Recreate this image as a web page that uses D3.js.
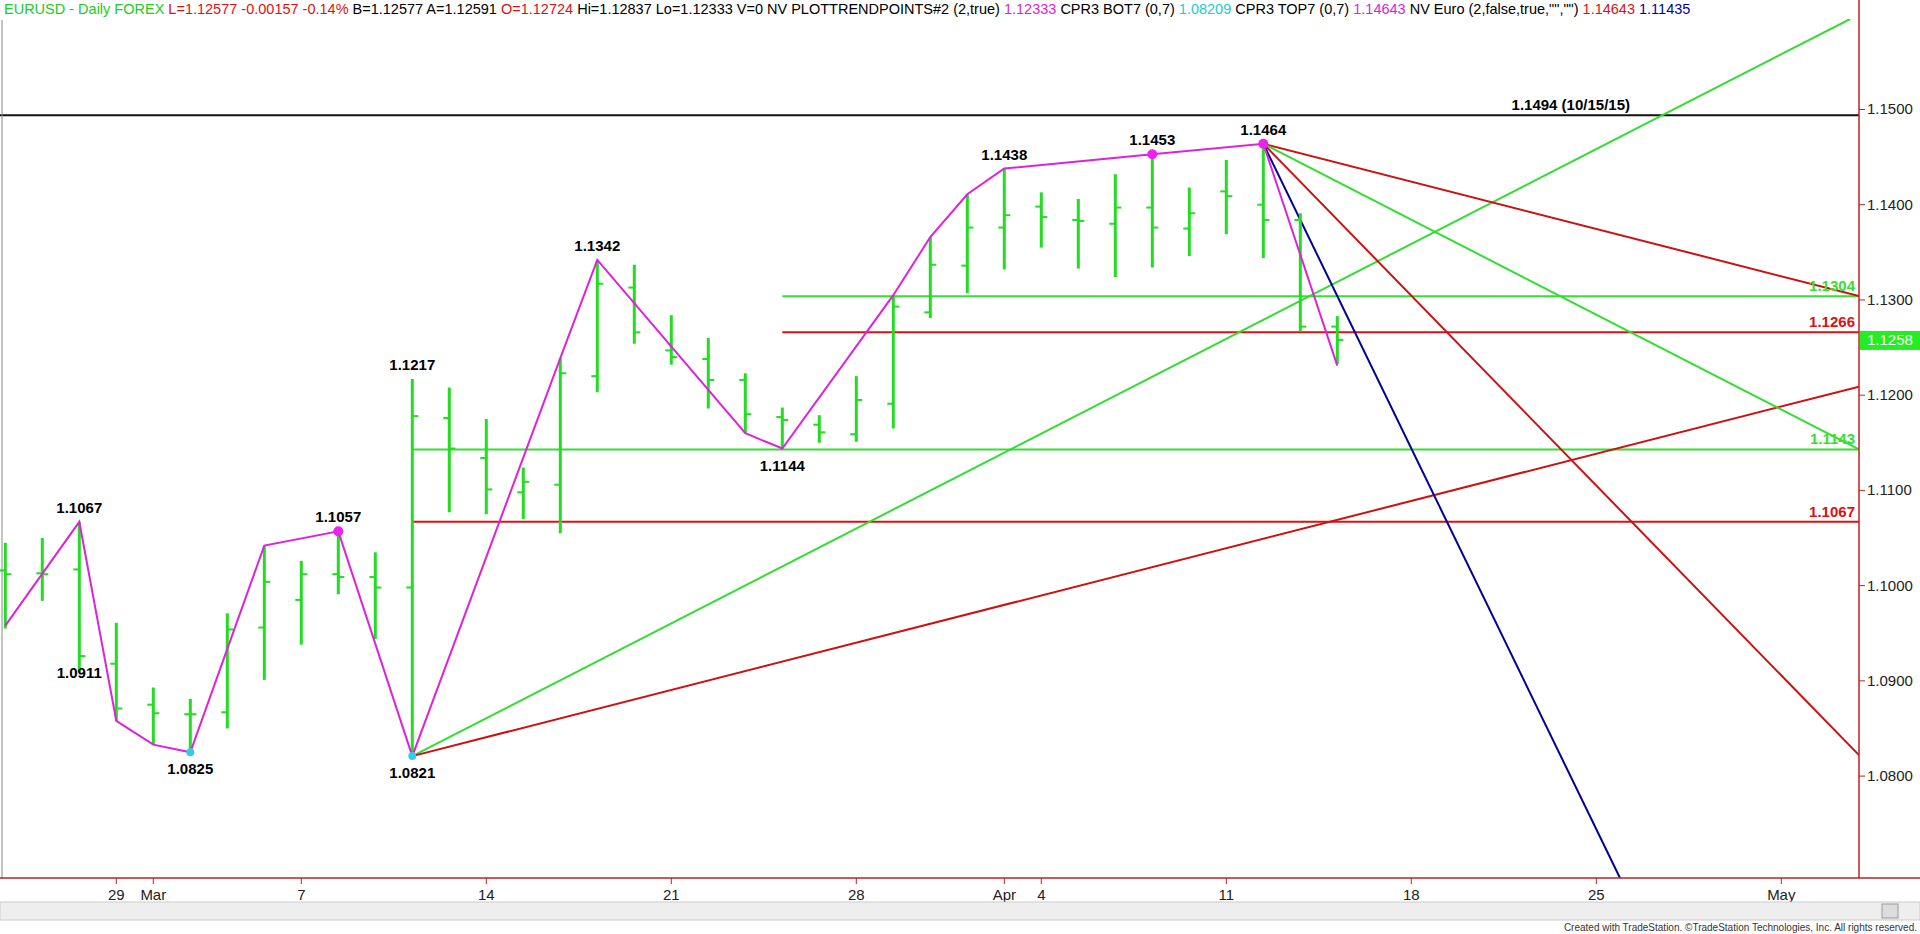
<!DOCTYPE html>
<html><head><meta charset="utf-8">
<script src="https://cdn.jsdelivr.net/npm/d3@7/dist/d3.min.js"></script>
<style>
body{margin:0;background:#fff;overflow:hidden}
svg{display:block;font-family:"Liberation Sans",Arial,sans-serif}
</style></head><body>
<svg id="chart" width="1920" height="934"></svg>
<script>
// trading-day index: Feb 29 2016 = 0
var dates = ["Feb24","Feb25","Feb26","Feb29","Mar1","Mar2","Mar3","Mar4","Mar7","Mar8","Mar9","Mar10","Mar11","Mar14","Mar15","Mar16","Mar17","Mar18","Mar21","Mar22","Mar23","Mar24","Mar25","Mar28","Mar29","Mar30","Mar31","Apr1","Apr4","Apr5","Apr6","Apr7","Apr8","Apr11","Apr12","Apr13","Apr14"];
var opens  = [1.1016,1.1013,1.1017,1.0918,1.0875,1.0865,1.0867,1.0956,1.0985,1.1012,1.1009,1.0998,1.1176,1.1134,1.1098,1.1106,1.1220,1.1313,1.1247,1.1238,1.1216,1.1177,1.1169,1.1159,1.1191,1.1287,1.1336,1.1376,1.1398,1.1384,1.1380,1.1397,1.1375,1.1414,1.1400,1.1384,1.1272];
var highs  = [1.1045,1.1050,1.1067,1.0961,1.0893,1.0881,1.0971,1.1042,1.1026,1.1057,1.1035,1.1217,1.1208,1.1175,1.1124,1.1239,1.1342,1.1337,1.1284,1.1260,1.1223,1.1187,1.1179,1.1220,1.1305,1.1366,1.1411,1.1438,1.1413,1.1406,1.1432,1.1453,1.1418,1.1447,1.1464,1.1391,1.1283];
var lows   = [1.0955,1.0984,1.0909,1.0858,1.0833,1.0825,1.0850,1.0901,1.0938,1.0991,1.0944,1.0821,1.1077,1.1075,1.1070,1.1055,1.1203,1.1254,1.1232,1.1186,1.1160,1.1144,1.1150,1.1151,1.1165,1.1281,1.1307,1.1332,1.1355,1.1333,1.1324,1.1334,1.1346,1.1369,1.1344,1.1267,1.1233];
var closes = [1.1012,1.1012,1.0926,1.0871,1.0866,1.0865,1.0954,1.1004,1.1012,1.1009,1.0998,1.1178,1.1144,1.1101,1.1109,1.1223,1.1317,1.1266,1.1240,1.1216,1.1180,1.1174,1.1161,1.1195,1.1293,1.1337,1.1376,1.1389,1.1387,1.1383,1.1397,1.1376,1.1391,1.1409,1.1384,1.1272,1.1258];
var firstIdx = -3;

var swingIdx = [-3,-1,0,1,2,4,6,8,12,13,17,18,21,22,23,24,28,31,33];
var swingVal = [1.0958,1.1067,1.0858,1.0833,1.0825,1.1042,1.1057,1.0821,1.1239,1.1342,1.1160,1.1144,1.1305,1.1366,1.1411,1.1438,1.1453,1.1464,1.1231];

var pivotLabels = [
  {i:-1,v:1.1067,t:"1.1067",up:true},{i:-1,v:1.0926,t:"1.0911",up:false},
  {i:2,v:1.0825,t:"1.0825",up:false},{i:6,v:1.1057,t:"1.1057",up:true},
  {i:8,v:1.0821,t:"1.0821",up:false},{i:8,v:1.1217,t:"1.1217",up:true},
  {i:13,v:1.1342,t:"1.1342",up:true},{i:18,v:1.1144,t:"1.1144",up:false},
  {i:24,v:1.1438,t:"1.1438",up:true},{i:28,v:1.1453,t:"1.1453",up:true},
  {i:31,v:1.1464,t:"1.1464",up:true}];
var dotsMagenta = [[6,1.1057],[28,1.1453],[31,1.1464]];
var dotsCyan = [[2,1.0825],[8,1.0821]];

var hLevels = [
  {v:1.1304,from:18,c:"#33e033",t:"1.1304"},{v:1.1266,from:18,c:"#dd1111",t:"1.1266"},
  {v:1.1143,from:8,c:"#33e033",t:"1.1143"},{v:1.1067,from:8,c:"#dd1111",t:"1.1067"}];
var endX = 47.1;
var rays = [
  {i0:8,v0:1.0821,i1:46.86,v1:1.1595,c:"#33dd33"},
  {i0:8,v0:1.0821,i1:endX,v1:1.1209,c:"#cc1111"},
  {i0:31,v0:1.1464,i1:endX,v1:1.1304,c:"#cc1111"},
  {i0:31,v0:1.1464,i1:endX,v1:1.1143,c:"#33dd33"},
  {i0:31,v0:1.1464,i1:endX,v1:1.0822,c:"#cc1111"},
  {i0:31,v0:1.1464,i1:40.64,v1:1.0693,c:"#000099"}];

var xTicks = [[0,"29"],[1,"Mar"],[5,"7"],[10,"14"],[15,"21"],[20,"28"],[24,"Apr"],[25,"4"],[30,"11"],[35,"18"],[40,"25"],[45,"May"]];
var yTicks = [1.08,1.09,1.10,1.11,1.12,1.13,1.14,1.15];

var header = [
  ["EURUSD - Daily  FOREX","#22cc22"],["L=1.12577  -0.00157  -0.14%","#dd1111"],["B=1.12577  A=1.12591","#000"],
  ["O=1.12724","#dd1111"],["Hi=1.12837  Lo=1.12333  V=0  NV  PLOTTRENDPOINTS#2 (2,true)","#000"],["1.12333","#dd22dd"],
  ["CPR3 BOT7 (0,7)","#000"],["1.08209","#22cccc"],["CPR3 TOP7 (0,7)","#000"],["1.14643","#dd22dd"],
  ["NV Euro (2,false,true,\"\",\"\")","#000"],["1.14643","#dd1111"],["1.11435","#0000aa"]];

var svg = d3.select("#chart");
var axisX = 1859, bottomY = 878;
var x = d3.scaleLinear().domain([0,1]).range([116.3,153.3]);
var y = d3.scaleLinear().domain([1.0693,1.1595]).range([bottomY,19]);

var plot = svg.append("g");
svg.append("defs").append("clipPath").attr("id","clip").append("rect")
  .attr("x",0).attr("y",19).attr("width",axisX).attr("height",bottomY-19);
plot.attr("clip-path","url(#clip)");

svg.append("line").attr("x1",2).attr("x2",2).attr("y1",20).attr("y2",bottomY).attr("stroke","#888");

plot.append("line").attr("x1",0).attr("x2",axisX).attr("y1",y(1.1494)).attr("y2",y(1.1494)).attr("stroke","#111").attr("stroke-width",2);
svg.append("text").attr("x",1630).attr("y",y(1.1494)-5).attr("text-anchor","end")
  .attr("font-weight","bold").attr("font-size",15).text("1.1494 (10/15/15)");

hLevels.forEach(function(h){
  plot.append("line").attr("x1",x(h.from)).attr("x2",axisX).attr("y1",y(h.v)).attr("y2",y(h.v))
    .attr("stroke",h.c).attr("stroke-width",2);
  svg.append("text").attr("x",1855).attr("y",y(h.v)-5).attr("text-anchor","end")
    .attr("font-weight","bold").attr("font-size",15).attr("fill",h.c).text(h.t);
});

rays.forEach(function(r){
  plot.append("line").attr("x1",x(r.i0)).attr("y1",y(r.v0)).attr("x2",x(r.i1)).attr("y2",y(r.v1))
    .attr("stroke",r.c).attr("stroke-width",2);
});

var bars = plot.selectAll("g.bar").data(dates).enter().append("g").attr("class","bar");
bars.append("line").attr("x1",function(d,k){return x(k+firstIdx);}).attr("x2",function(d,k){return x(k+firstIdx);})
  .attr("y1",function(d,k){return y(highs[k]);}).attr("y2",function(d,k){return y(lows[k]);})
  .attr("stroke","#22dd22").attr("stroke-width",3);
bars.append("line").attr("x1",function(d,k){return x(k+firstIdx)-6;}).attr("x2",function(d,k){return x(k+firstIdx);})
  .attr("y1",function(d,k){return y(opens[k]);}).attr("y2",function(d,k){return y(opens[k]);})
  .attr("stroke","#22dd22").attr("stroke-width",2);
bars.append("line").attr("x1",function(d,k){return x(k+firstIdx);}).attr("x2",function(d,k){return x(k+firstIdx)+6;})
  .attr("y1",function(d,k){return y(closes[k]);}).attr("y2",function(d,k){return y(closes[k]);})
  .attr("stroke","#22dd22").attr("stroke-width",2);

var zz = d3.line().x(function(d){return x(d[0]);}).y(function(d){return y(d[1]);});
plot.append("path").datum(swingIdx.map(function(v,k){return [v,swingVal[k]];}))
  .attr("d",zz).attr("fill","none").attr("stroke","#dd22dd").attr("stroke-width",2);
plot.selectAll("circle.m").data(dotsMagenta).enter().append("circle")
  .attr("cx",function(d){return x(d[0]);}).attr("cy",function(d){return y(d[1]);}).attr("r",5).attr("fill","#ee22ee");
plot.selectAll("circle.c").data(dotsCyan).enter().append("circle")
  .attr("cx",function(d){return x(d[0]);}).attr("cy",function(d){return y(d[1]);}).attr("r",4).attr("fill","#33ccee");

svg.selectAll("text.piv").data(pivotLabels).enter().append("text")
  .attr("x",function(d){return x(d.i);}).attr("y",function(d){return d.up ? y(d.v)-9 : y(d.v)+22;})
  .attr("text-anchor","middle").attr("font-weight","bold").attr("font-size",15).text(function(d){return d.t;});

svg.append("line").attr("x1",axisX).attr("x2",axisX).attr("y1",0).attr("y2",bottomY).attr("stroke","#b22").attr("stroke-width",1.5);
svg.append("line").attr("x1",0).attr("x2",1920).attr("y1",bottomY).attr("y2",bottomY).attr("stroke","#b22").attr("stroke-width",1.5);
var ya = svg.append("g");
yTicks.forEach(function(t){
  ya.append("line").attr("x1",axisX).attr("x2",axisX+6).attr("y1",y(t)).attr("y2",y(t)).attr("stroke","#b22");
  ya.append("text").attr("x",axisX+8).attr("y",y(t)+5).attr("font-size",15).attr("fill","#222").text(d3.format(".4f")(t));
});
ya.append("rect").attr("x",axisX+1).attr("y",y(1.1258)-9).attr("width",60).attr("height",19).attr("fill","#22ee22");
ya.append("text").attr("x",axisX+8).attr("y",y(1.1258)+5).attr("font-size",15).attr("fill","#fff").text("1.1258");

xTicks.forEach(function(t){
  svg.append("line").attr("x1",x(t[0])).attr("x2",x(t[0])).attr("y1",bottomY).attr("y2",bottomY+6).attr("stroke","#b22");
  svg.append("text").attr("x",x(t[0])).attr("y",bottomY+22).attr("text-anchor","middle").attr("font-size",15)
    .attr("font-family","'Liberation Sans Narrow','Liberation Sans',sans-serif").attr("fill","#222").text(t[1]);
});

svg.append("rect").attr("x",0).attr("y",902).attr("width",1920).attr("height",18).attr("fill","#eee").attr("stroke","#ccc");
svg.append("rect").attr("x",1882).attr("y",904).attr("width",16).attr("height",14).attr("fill","#ddd").attr("stroke","#999");
svg.append("text").attr("x",1917).attr("y",931).attr("text-anchor","end").attr("font-size",10).attr("fill","#333")
  .text("Created with TradeStation. \u00a9TradeStation Technologies, Inc. All rights reserved.");

var ht = svg.append("text").attr("x",4).attr("y",14).attr("font-size",14.5)
  .attr("font-family","'Liberation Sans Narrow','Liberation Sans',sans-serif");
header.forEach(function(h){
  ht.append("tspan").attr("fill",h[1]).text(h[0]+"  ");
});
</script>
</body></html>
